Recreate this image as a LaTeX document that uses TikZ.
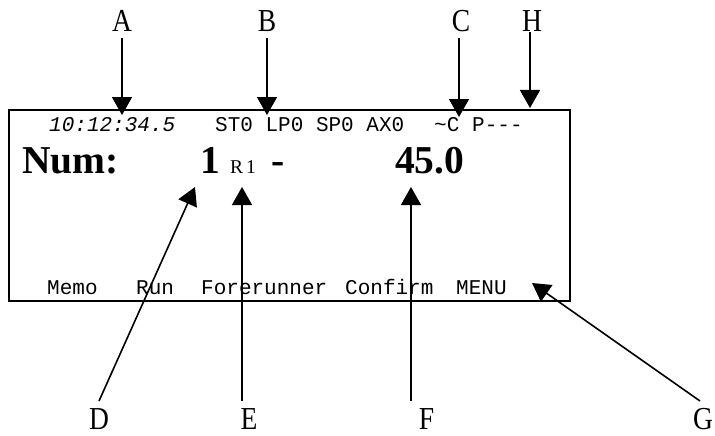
\documentclass[tikz,border=0pt]{standalone}
\usepackage{fontspec}
\setmainfont{Liberation Serif}
\newfontfamily\lmono{Liberation Mono}
\usetikzlibrary{arrows.meta}
\begin{document}
\begin{tikzpicture}[x=1pt,y=-1pt,
  lbl/.style={inner sep=0pt,anchor=base,font=\fontsize{32}{32}\selectfont},
  mono/.style={inner sep=0pt,anchor=base west,font=\lmono\fontsize{21}{21}\selectfont},
  big/.style={inner sep=0pt,anchor=base west,font=\fontsize{39.5}{39.5}\selectfont\bfseries},
  arr/.style={line width=1.6pt,-{Triangle[width=20pt,length=18pt]}},
  screen/.style={draw,line width=2.4pt}]
\useasboundingbox (0,0) rectangle (715,436);
% screen frame
\node[screen,inner sep=0pt,minimum width=561pt,minimum height=191pt,anchor=north west] (scr) at (7.5,108.5) {};
% top status line
\node[mono] (time) at (49,131) {\itshape 10:12:34.5};
\node[mono] (st) at (215,131) {ST0 LP0 SP0 AX0};
\node[mono] (tc) at (434,131) {\textasciitilde C};
\node[mono] (pp) at (472,131) {P---};
% big line
\node[big] (num) at (22,173) {Num:};
\node[big] (one) at (200,173) {1};
\node[inner sep=0pt,anchor=base west,font=\fontsize{19.5}{19.5}\selectfont] (r1) at (230,173) {R\kern3pt1};
\node[big] (dash) at (271,173) {-};
\node[big] (val) at (395,173) {45.0};
% soft keys
\node[mono] (memo) at (47,294) {Memo};
\node[mono] (run) at (136,294) {Run};
\node[mono] (fore) at (201,294) {Forerunner};
\node[mono] (conf) at (345,294) {Confirm};
\node[mono] (menu) at (456,294) {MENU};
% labels
\node[lbl] (A) at (122,32) {\scalebox{0.86}[1]{A}};
\node[lbl] (B) at (267,32) {\scalebox{0.86}[1]{B}};
\node[lbl] (C) at (461,32) {\scalebox{0.86}[1]{C}};
\node[lbl] (H) at (532,32) {\scalebox{0.86}[1]{H}};
\node[lbl] (D) at (99,429) {\scalebox{0.86}[1]{D}};
\node[lbl] (E) at (249,429) {\scalebox{0.86}[1]{E}};
\node[lbl] (F) at (426.5,429) {\scalebox{0.86}[1]{F}};
\node[lbl] (G) at (703,429) {\scalebox{0.86}[1]{G}};
% arrow ends
\coordinate (a0) at (122,38);   \coordinate (a1) at (122,115);
\coordinate (b0) at (267,38);   \coordinate (b1) at (267,115);
\coordinate (c0) at (459,38);   \coordinate (c1) at (459,117);
\coordinate (h0) at (530,32);   \coordinate (h1) at (530,108);
\coordinate (d0) at (99,401);   \coordinate (d1) at (195,187);
\coordinate (e0) at (242,401);  \coordinate (e1) at (242,187);
\coordinate (f0) at (411,401);  \coordinate (f1) at (411,187);
\coordinate (g0) at (700,401);  \coordinate (g1) at (532,283);
\draw[arr] (a0) -- (a1);
\draw[arr] (b0) -- (b1);
\draw[arr] (c0) -- (c1);
\draw[arr] (h0) -- (h1);
\draw[arr] (d0) -- (d1);
\draw[arr] (e0) -- (e1);
\draw[arr] (f0) -- (f1);
\draw[arr] (g0) -- (g1);
\end{tikzpicture}
\end{document}
